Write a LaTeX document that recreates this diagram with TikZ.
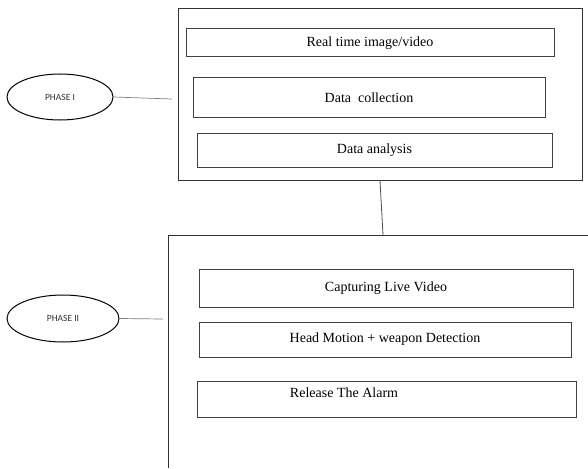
\documentclass[tikz,border=0pt]{standalone}
\usepackage{fontspec}
\setmainfont{Liberation Serif}
\newfontfamily\phasefont{Carlito}
\usetikzlibrary{shapes.geometric}
\tikzset{
  outerbox/.style={draw=black!80, line width=1pt, rectangle, inner sep=0pt},
  stepbox/.style={draw=black!75, line width=1pt, rectangle, inner sep=0pt, font=\fontsize{14}{16}\selectfont, text=black},
  phase/.style={draw=black, line width=1pt, ellipse, inner sep=0pt, font=\phasefont\fontsize{9.5}{11}\selectfont, text=black!80},
  link/.style={draw=black!50, line width=0.7pt},
  plain/.style={inner sep=0pt, font=\fontsize{14}{16}\selectfont, text=black}
}
\begin{document}
\begin{tikzpicture}[x=1pt,y=-1pt]
\useasboundingbox (0,0) rectangle (588,468);
% Phase I block
\node[outerbox, minimum width=404pt, minimum height=171pt] (p1box) at (380,94.5) {};
\node[stepbox, minimum width=368pt, minimum height=28pt] (b1) at (370,43) {Real time image/video};
\node[stepbox, minimum width=352pt, minimum height=39pt] (b2) at (369,97.5) {Data\ \ collection};
\node[stepbox, minimum width=355pt, minimum height=34pt] (b3) at (374.5,150) {Data analysis};
% Phase II block (open frame)
\coordinate (p2bl) at (168,468);
\coordinate (p2tl) at (168,235);
\coordinate (p2tr) at (588,235);
\draw[black!80, line width=1pt] (p2bl) -- (p2tl) -- (p2tr);
\node[stepbox, minimum width=374pt, minimum height=38pt] (b4) at (386,288) {Capturing Live Video};
\node[stepbox, minimum width=372pt, minimum height=35pt] (b5) at (385,339.5) {Head Motion + weapon Detection};
\node[stepbox, minimum width=379pt, minimum height=36pt] (b6) at (386.5,399) {};
\node[plain] (t6) at (344,393) {Release The Alarm};
% connector between blocks
\coordinate (p2top) at (383,235);
\draw[black!70, line width=0.8pt] (p1box.south) -- (p2top);
% phase ellipses
\node[phase, minimum width=106pt, minimum height=46pt] (e1) at (60,97) {PHASE I};
\node[phase, minimum width=112pt, minimum height=47pt] (e2) at (63,318.5) {PHASE II};
\coordinate (l1end) at (172,99);
\coordinate (l2end) at (163,319);
\draw[link] (e1.east) -- (l1end);
\draw[link] (e2.east) -- (l2end);
\end{tikzpicture}
\end{document}
